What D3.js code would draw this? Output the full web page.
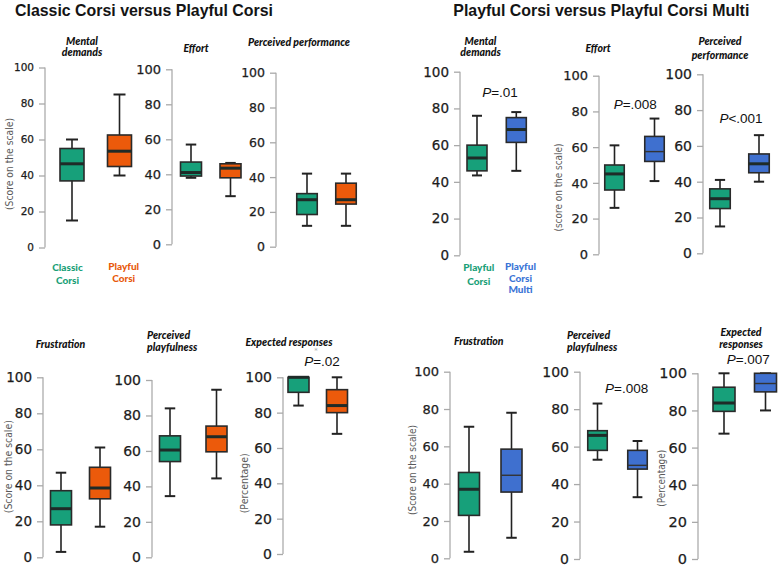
<!DOCTYPE html>
<html><head><meta charset="utf-8">
<script src="https://cdn.jsdelivr.net/npm/d3@7"></script>
<style>body{margin:0;background:#fff}svg{display:block}</style>
</head><body>
<svg id="c" width="778" height="567"></svg>
<script>
// ---------- DATA ----------
const measures = ["Mental demands","Effort","Perceived performance","Frustration","Perceived playfulness","Expected responses"];
const leftGroups = ["Classic Corsi","Playful Corsi"];
const rightGroups = ["Playful Corsi","Playful Corsi Multi"];
const blockTitles = ["Classic Corsi versus Playful Corsi","Playful Corsi versus Playful Corsi Multi"];
// five-number summaries [min, q1, median, q3, max] per measure
const classicCorsi      = [[15,37,46.5,55,60],[38,39,41,47,57],[12,18.5,27,30.5,42],[3,18,27,37,47],[34.5,54,60.5,68.5,84],[84,91.5,100,100,100]];
const playfulCorsiA     = [[40,45,53.5,62.5,85],[27.5,38,43.5,46,46.5],[12,24.5,27,36.5,42],[17,32.5,38.5,50,61],[44.5,59.5,68,74,94.5],[68,80,84,93,100]];
const playfulCorsiB     = [[43.5,46,53,60,76],[26,36,45,50,61],[15,25,30.5,36,41],[3.5,23,37,46,70.5],[53,58,66,68.5,83],[67.5,79.5,84,92.5,100]];
const playfulCorsiMulti = [[46,61.5,68.5,75,78],[41,52,57.5,66,76],[40,45,50,55.5,66],[11,35.5,44.5,58.5,78],[33,48,50,58,63],[80,90,94.5,100,100]];
const pLeft  = ["","","","","","P=.02"];
const pRight = ["P=.01","P=.008","P<.001","","P=.008","P=.007"];
const yTicks = [0,20,40,60,80,100];
const yLabelsLeft  = ["(Score on the scale)","","","(Score on the scale)","","(Percentage)"];
const yLabelsRight = ["","(score on the scale)","","(Score on the scale)","","(Percentage)"];

// ---------- LAYOUT (positions/styles only) ----------
const colors = {green:"#17a07a", orange:"#ec5a0b", blue:"#3f70cf"};
const labelColors = {green:"#1a9f78", orange:"#e8590c", blue:"#3b74d6"};
const L = [
 // left block
 {ax:45,  y100:67.5, y0:247.5, cx:[72,119.5],  bw:24, fs:10.5, tl:[["Mental","demands"]], tx:82,  ty:[45,55.5], ta:"middle", yl:{x:9.5, y:164, len:92}},
 {ax:172, y100:69.3, y0:244.3, cx:[191,230.5], bw:21, fs:13,   tl:[["Effort"]], tx:196, ty:[52], ta:"middle", yl:null},
 {ax:276, y100:72.7, y0:246.7, cx:[307,346],   bw:20.5, fs:12.5, tl:[["Perceived performance"]], tx:299, ty:[46], ta:"middle", yl:null},
 {ax:43,  y100:377.3,y0:557.3, cx:[61,100],    bw:21, fs:13.5, tl:[["Frustration"]], tx:60.5, ty:[348], ta:"middle", yl:{x:8.3, y:466.7, len:93}},
 {ax:152, y100:380,  y0:557.3, cx:[170,216.5], bw:21, fs:14,   tl:[["Perceived","playfulness"]], tx:147, ty:[338.5,350.5], ta:"start", yl:null},
 {ax:283, y100:377.3,y0:554,   cx:[298.5,337], bw:21, fs:14,   tl:[["Expected responses"]], tx:289, ty:[346], ta:"middle", px:322, py:365.7, yl:{x:244.7, y:483.3, len:60}},
 // right block
 {ax:460, y100:71.7, y0:255.3, cx:[477,516.3], bw:20, fs:13.5, tl:[["Mental","demands"]], tx:480.5, ty:[45,55.5], ta:"middle", px:500, py:97.3, yl:null},
 {ax:599, y100:75.7, y0:254.3, cx:[614.5,654.5], bw:19.5, fs:13, tl:[["Effort"]], tx:598, ty:[52], ta:"middle", px:635.3, py:109.3, yl:{x:558, y:187.5, len:88}},
 {ax:703, y100:74.3, y0:253.3, cx:[720,759],   bw:20.5, fs:14,  tl:[["Perceived","performance"]], tx:720, ty:[45,59], ta:"middle", px:741, py:123.3, yl:null},
 {ax:450, y100:371.7,y0:558.3, cx:[469,511.5], bw:21, fs:13,   tl:[["Frustration"]], tx:478.8, ty:[345], ta:"middle", yl:{x:412.8, y:470, len:90}},
 {ax:580, y100:371.7,y0:559,   cx:[597.5,637.5], bw:19.5, fs:14, tl:[["Perceived","playfulness"]], tx:567, ty:[338.5,350.5], ta:"start", px:626.7, py:393.3, yl:null},
 {ax:698, y100:373.3,y0:559,   cx:[724,765.5], bw:22, fs:14.5, tl:[["Expected","responses"]], tx:741, ty:[335.5,347.5], ta:"middle", px:748.3, py:364, yl:{x:661.7, y:478.3, len:57}}
];
const thinMedian = {7:[false,true], 9:[false,true], 10:[false,true], 11:[false,true]};

const svg = d3.select("#c");

// block titles
svg.append("text").attr("x",15).attr("y",15.5).attr("font-family","Liberation Sans, Arial, sans-serif")
  .attr("font-weight","bold").attr("font-size",16.5).attr("fill","#141414")
  .attr("textLength",258).attr("lengthAdjust","spacingAndGlyphs").text(blockTitles[0]);
svg.append("text").attr("x",453.3).attr("y",15.5).attr("font-family","Liberation Sans, Arial, sans-serif")
  .attr("font-weight","bold").attr("font-size",16.5).attr("fill","#141414")
  .attr("textLength",296).attr("lengthAdjust","spacingAndGlyphs").text(blockTitles[1]);

function drawPanel(i, statsA, statsB, colA, colB, pText, yLabText){
  const lay = L[i];
  const y = d3.scaleLinear().domain([0,100]).range([lay.y0, lay.y100]);
  const g = svg.append("g");
  // axis
  const axis = d3.axisLeft(y).tickValues(yTicks).tickSize(6).tickPadding(5).tickFormat(d3.format("d"));
  const ag = g.append("g").attr("transform",`translate(${lay.ax},0)`).call(axis);
  ag.select(".domain").attr("stroke","#c9c9c9").attr("stroke-width",2).attr("d",`M0,${lay.y100}V${lay.y0}`);
  ag.selectAll(".tick line").attr("stroke","#a9a9a9").attr("stroke-width",1.3);
  ag.selectAll(".tick text").attr("font-family","DejaVu Sans, Verdana, sans-serif").attr("font-size",lay.fs)
    .attr("fill","#1c1c1c").attr("stroke","#1c1c1c").attr("stroke-width",0.25);
  // boxes
  [[statsA,colA],[statsB,colB]].forEach(([s,col],k)=>{
    const cx = lay.cx[k], w = lay.bw, cap = w*0.5;
    const bg = g.append("g");
    bg.append("line").attr("x1",cx).attr("x2",cx).attr("y1",y(s[4])).attr("y2",y(s[0])).attr("stroke","#222").attr("stroke-width",1.6);
    bg.append("line").attr("x1",cx-cap/2).attr("x2",cx+cap/2).attr("y1",y(s[4])).attr("y2",y(s[4])).attr("stroke","#222").attr("stroke-width",2);
    bg.append("line").attr("x1",cx-cap/2).attr("x2",cx+cap/2).attr("y1",y(s[0])).attr("y2",y(s[0])).attr("stroke","#222").attr("stroke-width",2);
    bg.append("rect").attr("x",cx-w/2).attr("width",w).attr("y",y(s[3])).attr("height",Math.max(0,y(s[1])-y(s[3])))
      .attr("fill",col).attr("stroke","#2a2a2a").attr("stroke-width",1.6);
    const thin = thinMedian[i] && thinMedian[i][k];
    bg.append("line").attr("x1",cx-w/2).attr("x2",cx+w/2).attr("y1",y(s[2])).attr("y2",y(s[2]))
      .attr("stroke", thin ? "#333" : "#1f2b28").attr("stroke-width", thin ? 1.4 : 3);
  });
  // panel title
  const t = g.append("text").attr("font-family","Lato, Open Sans, sans-serif").attr("font-weight",900)
    .attr("font-style","italic").attr("font-size",10.5).attr("fill","#111").attr("text-anchor",lay.ta);
  lay.tl[0].forEach((line,j)=>{ t.append("tspan").attr("x",lay.tx).attr("y",lay.ty[j]).text(line); });
  // p value
  if(pText){
    const pt = g.append("text").attr("x",lay.px).attr("y",lay.py).attr("text-anchor","middle")
      .attr("font-family","Liberation Sans, Arial, sans-serif").attr("font-size",13.5).attr("fill","#111");
    pt.append("tspan").attr("font-style","italic").text(pText[0]);
    pt.append("tspan").text(pText.slice(1));
  }
  // y label
  if(yLabText && lay.yl){
    g.append("text").attr("transform",`translate(${lay.yl.x},${lay.yl.y}) rotate(-90)`).attr("text-anchor","middle")
      .attr("dy","0.35em").attr("font-family","DejaVu Sans Condensed, DejaVu Sans, sans-serif").attr("font-size",10)
      .attr("fill","#5a5a5a").attr("textLength",lay.yl.len).attr("lengthAdjust","spacingAndGlyphs").text(yLabText);
  }
}

measures.forEach((m,j)=>{
  drawPanel(j, classicCorsi[j], playfulCorsiA[j], colors.green, colors.orange, pLeft[j], yLabelsLeft[j]);
  drawPanel(j+6, playfulCorsiB[j], playfulCorsiMulti[j], colors.green, colors.blue, pRight[j], yLabelsRight[j]);
});

// small mark above P=.02
svg.append("text").attr("x",316).attr("y",353).attr("text-anchor","middle").attr("font-size",7)
  .attr("font-family","DejaVu Sans, sans-serif").attr("fill","#aaa").text("*");

// group labels under first panels
function groupLabel(name, x, ys, col){
  const words = name.split(" ");
  const t = svg.append("text").attr("text-anchor","middle").attr("font-family","Lato, Open Sans, sans-serif")
    .attr("font-weight",900).attr("font-size",10).attr("fill",col);
  words.forEach((w,i)=>t.append("tspan").attr("x",x).attr("y",ys[i]).text(w));
}
groupLabel(leftGroups[0], 67.5, [271,284], labelColors.green);
groupLabel(leftGroups[1], 123.7, [270,282], labelColors.orange);
groupLabel(rightGroups[0], 478.8, [271,285], labelColors.green);
groupLabel(rightGroups[1], 520.5, [270,282,293], labelColors.blue);
</script>
</body></html>
